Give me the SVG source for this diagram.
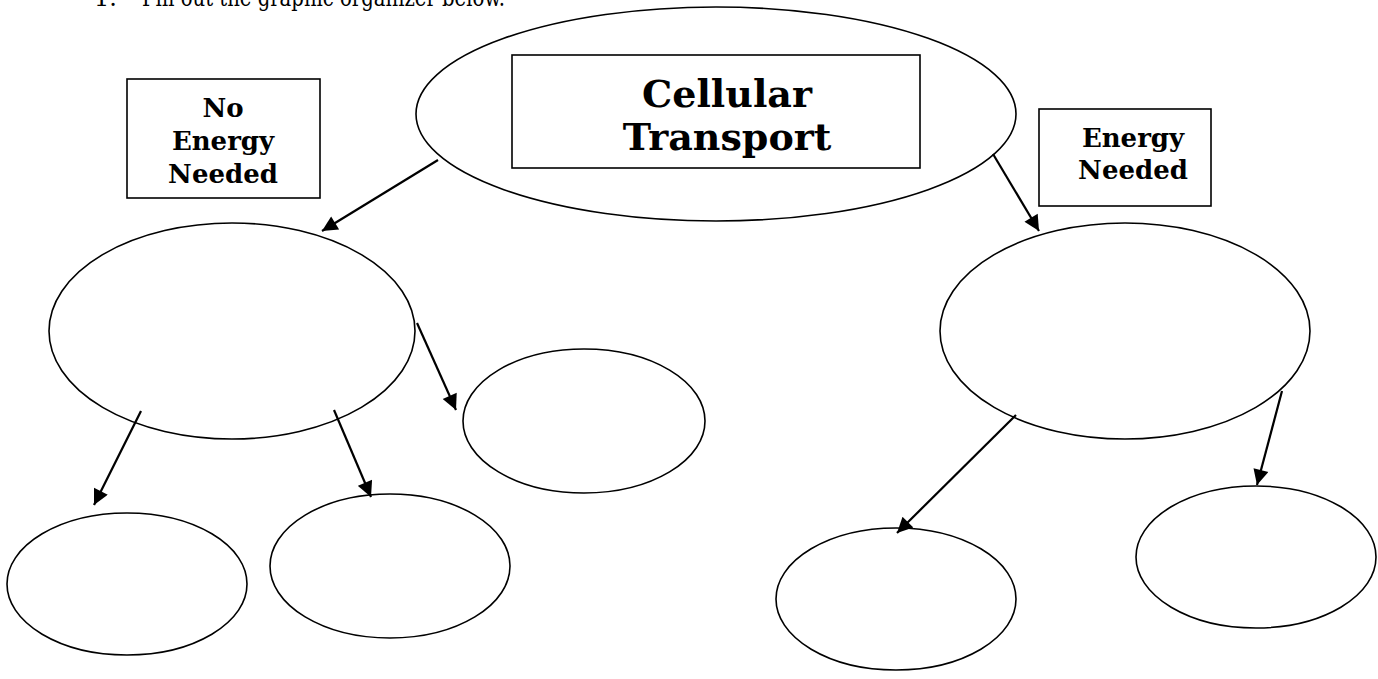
<svg xmlns="http://www.w3.org/2000/svg" width="1378" height="679" viewBox="0 0 1378 679">
  <style>
    .bubble { fill: none; stroke: #000; stroke-width: 1.6; }
    .box { fill: #fff; stroke: #000; stroke-width: 1.6; }
    .link { stroke: #000; stroke-width: 2.2; fill: none; marker-end: url(#head); }
    .label { font-family: "DejaVu Serif", "Liberation Serif", serif; font-weight: bold; fill: #000; text-anchor: middle; }
    .title { font-size: 38px; }
    .tag { font-size: 26px; }
    .prompt { font-family: "DejaVu Serif", "Liberation Serif", serif; font-size: 24px; fill: #000; }
  </style>
  <defs>
    <marker id="head" viewBox="0 0 10 10" refX="10" refY="5" markerWidth="8" markerHeight="7" markerUnits="strokeWidth" orient="auto">
      <path d="M0,0 L10,5 L0,10 z" fill="#000"/>
    </marker>
  </defs>

  <rect width="1378" height="679" fill="#fff"/>

  <!-- instruction line, clipped at the top edge -->
  <text class="prompt" x="94" y="6">1.</text>
  <text class="prompt" x="142" y="6" textLength="363" lengthAdjust="spacingAndGlyphs">Fill out the graphic organizer below.</text>

  <g id="connectors">
    <line class="link" x1="438" y1="160" x2="322" y2="231"/>
    <line class="link" x1="993" y1="154" x2="1039" y2="231"/>
    <line class="link" x1="417" y1="323" x2="456" y2="410"/>
    <line class="link" x1="141" y1="411" x2="94" y2="505"/>
    <line class="link" x1="334" y1="410" x2="371" y2="497"/>
    <line class="link" x1="1016" y1="415" x2="897" y2="533"/>
    <line class="link" x1="1282" y1="391" x2="1257" y2="485"/>
  </g>

  <g id="cellular-transport">
    <ellipse class="bubble" cx="716" cy="114" rx="300" ry="107"/>
    <rect class="box" x="512" y="55" width="408" height="113"/>
    <text class="label title" x="727" y="107">Cellular</text>
    <text class="label title" x="727" y="150">Transport</text>
  </g>

  <g id="no-energy-needed">
    <rect class="box" x="127" y="79" width="193" height="119"/>
    <text class="label tag" x="223" y="117">No</text>
    <text class="label tag" x="223" y="150">Energy</text>
    <text class="label tag" x="223" y="183">Needed</text>
  </g>

  <g id="energy-needed">
    <rect class="box" x="1039" y="109" width="172" height="97"/>
    <text class="label tag" x="1133" y="147">Energy</text>
    <text class="label tag" x="1133" y="179">Needed</text>
  </g>

  <g id="passive">
    <ellipse class="bubble" cx="232" cy="331" rx="183" ry="108"/>
  </g>
  <g id="passive-c">
    <ellipse class="bubble" cx="584" cy="421" rx="121" ry="72"/>
  </g>
  <g id="passive-a">
    <ellipse class="bubble" cx="127" cy="584" rx="120" ry="71"/>
  </g>
  <g id="passive-b">
    <ellipse class="bubble" cx="390" cy="566" rx="120" ry="72"/>
  </g>

  <g id="active">
    <ellipse class="bubble" cx="1125" cy="331" rx="185" ry="108"/>
  </g>
  <g id="active-a">
    <ellipse class="bubble" cx="896" cy="599" rx="120" ry="71"/>
  </g>
  <g id="active-b">
    <ellipse class="bubble" cx="1256" cy="557" rx="120" ry="71"/>
  </g>
</svg>
